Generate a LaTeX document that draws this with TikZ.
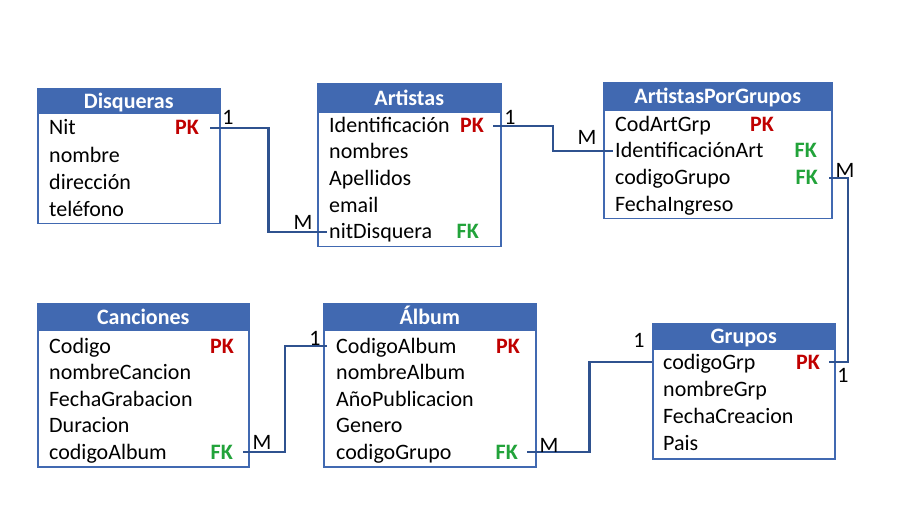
\documentclass[tikz,border=0pt]{standalone}
\usepackage{fontspec}
\setmainfont{Carlito}
\usetikzlibrary{calc}
\definecolor{hdrblue}{HTML}{4169B1}
\definecolor{lnblue}{HTML}{2F528F}
\definecolor{pkred}{HTML}{C00000}
\definecolor{fkgreen}{HTML}{22A33A}
\begin{document}
\begin{tikzpicture}[x=1pt,y=-1pt,
 every node/.style={font=\fontsize{22}{26}\selectfont},
 tbl/.style={draw=hdrblue, line width=1.5pt, fill=white, anchor=north west, inner sep=0pt},
 hdr/.style={fill=hdrblue, draw=hdrblue, line width=1.5pt, anchor=north west, inner sep=0pt,
   text=white, text height=14pt, text depth=0pt, font=\fontsize{22}{26}\selectfont\bfseries},
 fld/.style={anchor=base west, inner sep=0pt, text height=14pt, text depth=0pt},
 pk/.style={anchor=base east, inner sep=0pt, text height=14pt, text depth=0pt, text=pkred,
   font=\fontsize{22}{26}\selectfont\bfseries},
 fk/.style={pk, text=fkgreen},
 conn/.style={draw=lnblue, line width=2.8pt},
 card/.style={inner sep=0pt}
]
\fill[white] (0,0) rectangle (921,521);
\useasboundingbox (0,0) rectangle (921,521);

% Disqueras
\node[tbl, minimum width=182pt, minimum height=135pt] (dsq) at (37,88) {};
\node[hdr, minimum width=182pt, minimum height=25pt] (dsqh) at (37,88) {Disqueras};
\node[fld] (dsq1) at (49,135) {Nit};
\node[fld] (dsq2) at (49,163) {nombre};
\node[fld] (dsq3) at (49,190) {dirección};
\node[fld] (dsq4) at (49,217) {teléfono};
\node[pk] (dsqk) at (199,135) {PK};

% Artistas
\node[tbl, minimum width=183pt, minimum height=163pt] (art) at (317,83) {};
\node[hdr, minimum width=183pt, minimum height=29pt] (arth) at (317,83) {Artistas};
\node[fld] (art1) at (329,133) {Identificación};
\node[fld] (art2) at (329,159) {nombres};
\node[fld] (art3) at (329,186) {Apellidos};
\node[fld] (art4) at (329,213) {email};
\node[fld] (art5) at (329,239) {nitDisquera};
\node[pk] (artk1) at (484,133) {PK};
\node[fk] (artk5) at (479,239) {FK};

% ArtistasPorGrupos
\node[tbl, minimum width=228pt, minimum height=136pt] (apg) at (603,82) {};
\node[hdr, minimum width=228pt, minimum height=28pt] (apgh) at (603,82) {ArtistasPorGrupos};
\node[fld] (apg1) at (615,132) {CodArtGrp};
\node[fld] (apg2) at (615,158) {IdentificaciónArt};
\node[fld] (apg3) at (615,185) {codigoGrupo};
\node[fld] (apg4) at (615,212) {FechaIngreso};
\node[pk] (apgk1) at (774,132) {PK};
\node[fk] (apgk2) at (817,158) {FK};
\node[fk] (apgk3) at (818,185) {FK};

% Canciones
\node[tbl, minimum width=211pt, minimum height=163pt] (can) at (37,303) {};
\node[hdr, minimum width=211pt, minimum height=27pt] (canh) at (37,303) {Canciones};
\node[fld] (can1) at (49,353) {Codigo};
\node[fld] (can2) at (49,379) {nombreCancion};
\node[fld] (can3) at (49,406) {FechaGrabacion};
\node[fld] (can4) at (49,432) {Duracion};
\node[fld] (can5) at (49,459) {codigoAlbum};
\node[pk] (cank1) at (234,353) {PK};
\node[fk] (cank5) at (233,459) {FK};

% Album
\node[tbl, minimum width=212pt, minimum height=163pt] (alb) at (323,303) {};
\node[hdr, minimum width=212pt, minimum height=27pt] (albh) at (323,303) {Álbum};
\node[fld] (alb1) at (336,353) {CodigoAlbum};
\node[fld] (alb2) at (336,379) {nombreAlbum};
\node[fld] (alb3) at (336,406) {AñoPublicacion};
\node[fld] (alb4) at (336,432) {Genero};
\node[fld] (alb5) at (336,459) {codigoGrupo};
\node[pk] (albk1) at (520,353) {PK};
\node[fk] (albk5) at (518,459) {FK};

% Grupos
\node[tbl, minimum width=182pt, minimum height=135pt] (grp) at (652,323) {};
\node[hdr, minimum width=182pt, minimum height=25pt] (grph) at (652,323) {Grupos};
\node[fld] (grp1) at (663,369) {codigoGrp};
\node[fld] (grp2) at (663,396) {nombreGrp};
\node[fld] (grp3) at (663,423) {FechaCreacion};
\node[fld] (grp4) at (663,450) {Pais};
\node[pk] (grpk1) at (820,369) {PK};

% connector end points
\coordinate (c1a) at ([xshift=11pt]dsqk.east);
\coordinate (c1b) at ([xshift=-2pt]art5.west);
\coordinate (c2a) at ([xshift=9pt]artk1.east);
\coordinate (c2b) at ([xshift=-2pt]apg2.west);
\coordinate (c3a) at ([xshift=11pt]apgk3.east);
\coordinate (c3b) at ([xshift=9pt]grpk1.east);
\coordinate (c4a) at ([xshift=9pt]albk5.east);
\coordinate (c4b) at (grp1.west -| grp.west);
\coordinate (c5a) at ([xshift=10pt]cank5.east);
\coordinate (c5b) at ([xshift=-9pt]alb1.west);

\draw[conn] (c1a) -| ($(c1a)!0.5!(c1b)$) |- (c1b);
\draw[conn] (c2a) -| ($(c2a)!0.5!(c2b)$) |- (c2b);
\draw[conn] (c3a) -- ++(19,0) |- (c3b);
\draw[conn] (c4a) -| ($(c4a)!0.5!(c4b)$) |- (c4b);
\draw[conn] (c5a) -| ($(c5a)!0.5!(c5b)$) |- (c5b);

% cardinalities
\node[card] (l1) at (228,117) {1};
\node[card] (l2) at (303,222) {M};
\node[card] (l3) at (510,117) {1};
\node[card] (l4) at (587,137) {M};
\node[card] (l5) at (845,170) {M};
\node[card] (l6) at (843,375) {1};
\node[card] (l7) at (639,340) {1};
\node[card] (l8) at (549,445) {M};
\node[card] (l9) at (262,442) {M};
\node[card] (l10) at (315,338) {1};
\end{tikzpicture}
\end{document}
